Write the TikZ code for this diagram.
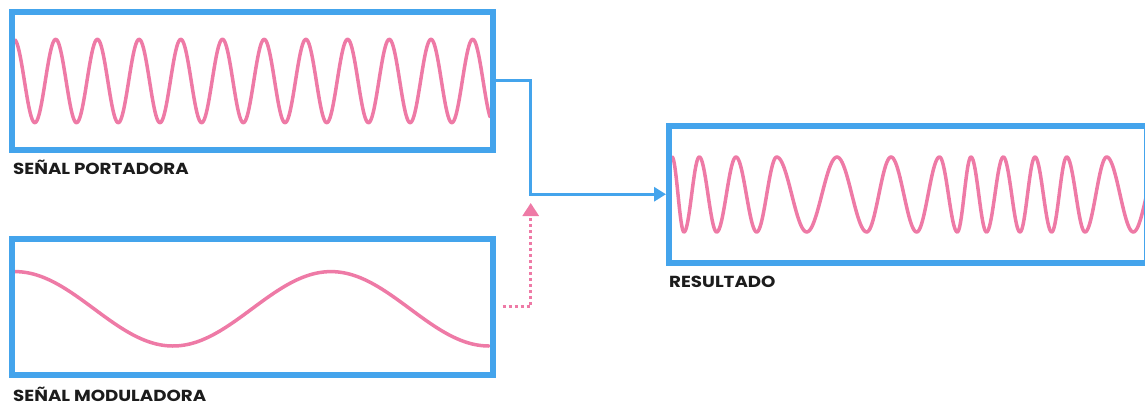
\documentclass[tikz,border=0pt]{standalone}
\usepackage{fontspec}
\setmainfont{Poppins}
\usetikzlibrary{arrows.meta}
\definecolor{cblue}{HTML}{44A4EC}
\definecolor{cpink}{HTML}{EE7AA6}
\definecolor{ctext}{HTML}{1C1C1C}
\newcommand{\lbltext}[1]{\scalebox{1.14}[1]{\bfseries #1}}
\begin{document}
\begin{tikzpicture}[x=1pt,y=-1pt,
  sigbox/.style={draw=cblue, line width=6pt, inner sep=0pt, outer sep=0pt, fill=none},
  wave/.style={draw=cpink, line width=3.5pt, line cap=round, line join=round},
  conn/.style={draw=cblue, line width=3pt, -{Triangle[length=12pt,width=14pt]}},
  pinkdot/.style={draw=cpink, line width=3pt, dash pattern=on 3pt off 3pt, -{Triangle[length=13pt,width=16pt]}},
  lbl/.style={anchor=base west, inner sep=0pt, text=ctext, font=\fontsize{16}{19}\selectfont}]
\useasboundingbox (0,0) rectangle (1145,405);
% waves
\draw[wave] plot[domain=15:490, samples=500] (\x,{81-41.7*cos(8.6331*(\x-14))});
\draw[wave] plot[domain=15:489, samples=200] (\x,{308.8-37.2*cos(1.13924*(\x-15))});
\foreach \a/\b/\s in {672/684/1, 684/699.3/-1, 699.3/716.7/1, 716.7/736/-1, 736/756.7/1, 756.7/776.7/-1, 776.7/806.7/1, 806.7/837/-1, 837/866.7/1, 866.7/891/-1, 891/916.7/1, 916.7/939.5/-1, 939.5/957.3/1, 957.3/971/-1, 971/986.5/1, 986.5/1003.3/-1, 1003.3/1020/1, 1020/1035/-1, 1035/1051.7/1, 1051.7/1066.7/-1, 1066.7/1085/1, 1085/1106.7/-1, 1106.7/1133.3/1, 1133.3/1160/-1}
  \draw[wave] plot[domain=\a:\b, samples=24] (\x,{194.5-\s*37.5*cos(180/(\b-\a)*(\x-\a))});
% boxes
\node[sigbox, minimum width=481pt, minimum height=137.7pt] (carrier) at (252.5,80.85) {};
\node[sigbox, minimum width=480.5pt, minimum height=135.5pt] (modul) at (252.25,306.75) {};
\node[sigbox, minimum width=478pt, minimum height=137.5pt] (result) at (908,194.25) {};
% labels
\node[lbl] (lcarrier) at (13,174.5) {\lbltext{SEÑAL PORTADORA}};
\node[lbl] (lmodul) at (13,401.5) {\lbltext{SEÑAL MODULADORA}};
\node[lbl] (lresult) at (669,287) {\lbltext{RESULTADO}};
% connectors
\coordinate (j) at (530.7,194.25);
\coordinate (tip) at (530.7,203);
\draw[conn, shorten >=3pt] (carrier.east) -| (j) -- (result.west);
\draw[pinkdot, shorten <=10pt] (modul.east) -| (tip);
\end{tikzpicture}
\end{document}
